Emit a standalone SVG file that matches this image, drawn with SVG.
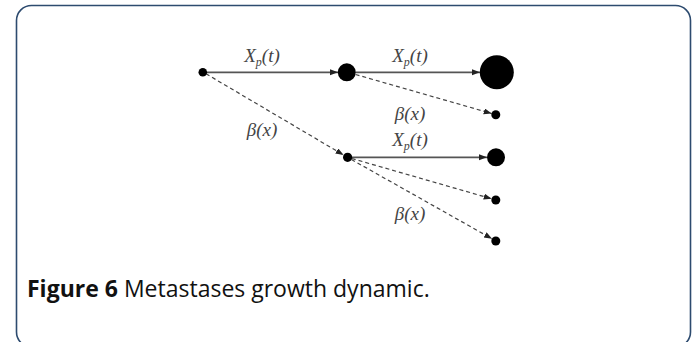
<svg xmlns="http://www.w3.org/2000/svg" width="693" height="342" viewBox="0 0 693 342">
<style>
.frame{fill:#fff;stroke:#2d4b6f;stroke-width:1.6}
.node{fill:#000}
.solid{stroke:#555;stroke-width:1.8;fill:none}
.dash{stroke:#444;stroke-width:1.2;fill:none;stroke-dasharray:4 3}
.lbl{font-family:"Liberation Serif",serif;font-style:italic;font-size:19px;fill:#444;text-anchor:middle}
.sub{font-size:12px}
.cap{font-family:"Open Sans","Liberation Sans",sans-serif;font-size:23px;fill:#111}
</style>
<defs>
<marker id="ah" markerUnits="userSpaceOnUse" markerWidth="9" markerHeight="7" refX="8" refY="3" orient="auto">
<path d="M0,0 L8,3 L0,6 z" fill="#222"/>
</marker>
</defs>
<rect class="frame" x="16.5" y="5.5" width="674" height="341.5" rx="15" ry="15"/>
<g id="connectors">
<line class="solid" x1="206" y1="72.3" x2="338" y2="72.3" marker-end="url(#ah)"/>
<line class="solid" x1="356" y1="72.3" x2="480" y2="72.3" marker-end="url(#ah)"/>
<line class="dash" x1="355.6" y1="74.5" x2="491.7" y2="113.5" marker-end="url(#ah)"/>
<line class="dash" x1="206" y1="73.8" x2="343.6" y2="155" marker-end="url(#ah)"/>
<line class="solid" x1="352" y1="157.3" x2="487" y2="157.3" marker-end="url(#ah)"/>
<line class="dash" x1="351.8" y1="158.5" x2="491.7" y2="198.8" marker-end="url(#ah)"/>
<line class="dash" x1="351.4" y1="159.5" x2="492.1" y2="238.8" marker-end="url(#ah)"/>
</g>
<g id="n0"><circle class="node" cx="202.8" cy="72.3" r="4.3"/></g>
<g id="n1"><circle class="node" cx="346.8" cy="72.3" r="9"/></g>
<g id="n2"><circle class="node" cx="496.8" cy="72.3" r="17"/></g>
<g id="n3"><circle class="node" cx="495.8" cy="114.7" r="4.5"/></g>
<g id="n4"><circle class="node" cx="347.6" cy="157.3" r="4.6"/></g>
<g id="n5"><circle class="node" cx="496" cy="157.3" r="9"/></g>
<g id="n6"><circle class="node" cx="495.8" cy="200" r="4.5"/></g>
<g id="n7"><circle class="node" cx="495.8" cy="241" r="4.5"/></g>
<g id="labels">
<text class="lbl" x="262" y="62">X<tspan class="sub" dy="4">p</tspan><tspan dy="-4">(t)</tspan></text>
<text class="lbl" x="410" y="62">X<tspan class="sub" dy="4">p</tspan><tspan dy="-4">(t)</tspan></text>
<text class="lbl" x="410" y="120">β(x)</text>
<text class="lbl" x="410" y="146">X<tspan class="sub" dy="4">p</tspan><tspan dy="-4">(t)</tspan></text>
<text class="lbl" x="262" y="136">β(x)</text>
<text class="lbl" x="410" y="220">β(x)</text>
</g>
<text class="cap" x="27" y="297"><tspan font-weight="bold">Figure 6</tspan> Metastases growth dynamic.</text>
</svg>
